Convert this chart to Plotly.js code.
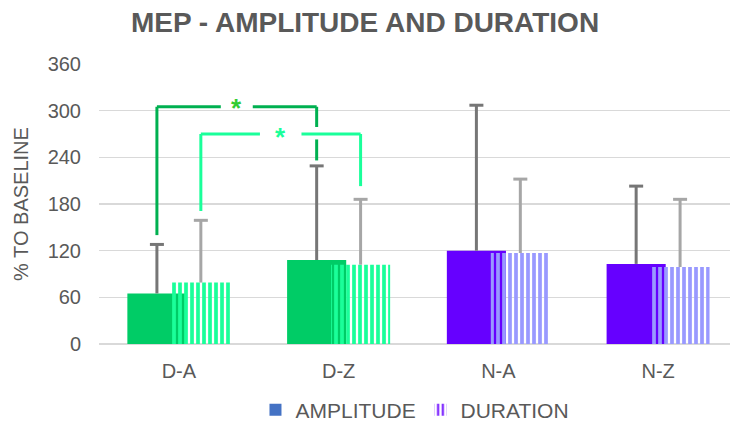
<!DOCTYPE html>
<html>
<head>
<meta charset="utf-8">
<script src="https://cdn.plot.ly/plotly-3.0.1.min.js"></script>
<style>html,body{margin:0;padding:0;background:#fff;}#chart{width:730px;height:425px;}</style>
</head>
<body>
<div id="chart"></div>
<script>
// ---- data ----
const categories = ['D-A', 'D-Z', 'N-A', 'N-Z'];
const amplitude = [65, 108, 120, 103];
const amplitudeSD = [63, 121, 187, 100];
const duration = [79, 102, 117, 99];
const durationSD = [80, 84, 95, 87];
const yTicks = [0, 60, 120, 180, 240, 300, 360];

// significance brackets: series index (0 amplitude, 1 duration), from/to category, level, bottoms
const sigSeries = [0, 1];
const sigFrom = [0, 0];
const sigTo = [1, 1];
const sigLevel = [305, 270];
const sigBottomFrom = [140, 171];
const sigBottomTo = [236, 203];
const sigText = ['*', '*'];

// ---- styles ----
const ampColors = ['#00CC66', '#00CC66', '#6600FF', '#6600FF'];
const durColors = ['#1AFF9A', '#1AFF9A', '#9999FF', '#9999FF'];
const bracketColors = ['#00B050', '#1AFF9A'];
const starColors = ['#33CC33', '#1AFF9A'];
const starShift = [-1, -3];
const gridColor = '#D9D9D9';
const textColor = '#595959';
const font = 'Liberation Sans, Arial, sans-serif';

const xs = categories.map((c, i) => i);
const barW = 0.37;
const shift = 0.1375;

function errTraces(vals, sds, dx, color) {
  const ex = [], ey = [], cx = [], cy = [];
  vals.forEach((v, i) => {
    ex.push(i + dx, i + dx, null);
    ey.push(v, v + sds[i], null);
    cx.push(i + dx);
    cy.push(v + sds[i]);
  });
  return [
    {type: 'scatter', mode: 'lines', x: ex, y: ey, line: {color: color, width: 3}, showlegend: false, hoverinfo: 'skip'},
    {type: 'scatter', mode: 'markers', x: cx, y: cy, marker: {symbol: 'line-ew', size: 10, line: {color: color, width: 3}},
      showlegend: false, hoverinfo: 'skip'}
  ];
}

const traces = [
  {
    type: 'bar', x: xs, y: amplitude, width: barW, offset: -shift - barW / 2,
    marker: {color: ampColors, line: {width: 0}},
    showlegend: false, hoverinfo: 'skip'
  },
  {
    type: 'bar', x: xs, y: duration, width: barW, offset: shift - barW / 2,
    marker: {color: durColors, line: {width: 0},
      pattern: {shape: '|', fgcolor: durColors, bgcolor: '#ffffff', size: 6, solidity: 0.62, fillmode: 'replace'}},
    showlegend: false, hoverinfo: 'skip'
  },
  ...errTraces(amplitude, amplitudeSD, -shift, '#767676'),
  ...errTraces(duration, durationSD, shift, '#A6A6A6'),
  {
    type: 'bar', x: [-5], y: [1], name: 'AMPLITUDE',
    marker: {color: '#4472C4'}, showlegend: true, hoverinfo: 'skip'
  },
  {
    type: 'bar', x: [-5], y: [1], name: 'DURATION',
    marker: {color: '#6600FF', pattern: {shape: '|', fgcolor: '#6600FF', bgcolor: '#ffffff', size: 6, solidity: 0.4, fillmode: 'replace'}},
    showlegend: true, hoverinfo: 'skip'
  }
];

// brackets as shapes computed from data
const shapes = [];
const annotations = [];
const seriesShift = [-shift, shift];
function seg(x0, y0, x1, y1, color) {
  shapes.push({type: 'line', xref: 'x', yref: 'y', x0: x0, y0: y0, x1: x1, y1: y1,
    line: {color: color, width: 3}});
}
const gapHalf = [0.1, 0.13];
for (let i = 0; i < sigSeries.length; i++) {
  const xa = sigFrom[i] + seriesShift[sigSeries[i]];
  const xb = sigTo[i] + seriesShift[sigSeries[i]];
  const lv = sigLevel[i];
  const mid = (xa + xb) / 2;
  const c = bracketColors[i];
  seg(xa, sigBottomFrom[i], xa, lv, c);
  seg(xa, lv, mid - gapHalf[i], lv, c);
  seg(mid + gapHalf[i], lv, xb, lv, c);
  // right leg, broken where another bracket's horizontal crosses it
  let top = lv;
  for (let j = 0; j < sigSeries.length; j++) {
    if (j === i) continue;
    const ja = sigFrom[j] + seriesShift[sigSeries[j]];
    const jb = sigTo[j] + seriesShift[sigSeries[j]];
    if (xb > ja && xb < jb && sigLevel[j] < lv && sigLevel[j] > sigBottomTo[i]) {
      seg(xb, top, xb, sigLevel[j] + 9, c);
      top = sigLevel[j] - 7;
    }
  }
  seg(xb, top, xb, sigBottomTo[i], c);
  annotations.push({xref: 'x', yref: 'y', x: mid, y: lv, text: '<b>' + sigText[i] + '</b>',
    showarrow: false, yanchor: 'middle', xanchor: 'center', yshift: starShift[i],
    font: {family: font, size: 26, color: starColors[i]}});
}

const layout = {
  width: 730, height: 425,
  margin: {l: 99, r: 0, t: 64, b: 81, pad: 0},
  paper_bgcolor: '#ffffff', plot_bgcolor: '#ffffff',
  barmode: 'overlay',
  font: {family: font, color: textColor, size: 20},
  title: {text: '<b>MEP - AMPLITUDE AND DURATION</b>', x: 0.5, xref: 'container', xanchor: 'center',
    y: 1 - 22 / 425, yref: 'container', yanchor: 'middle',
    font: {family: font, size: 28, color: textColor}},
  xaxis: {range: [-0.5, 3.45], tickvals: xs, ticktext: categories, showgrid: false, zeroline: false,
    showline: false, ticks: '', ticklabelstandoff: 13, tickfont: {size: 20, color: textColor}, fixedrange: true},
  yaxis: {range: [0, 360], tickvals: yTicks, ticktext: yTicks.map(String), showgrid: true, gridcolor: gridColor, gridwidth: 1.5,
    zeroline: true, zerolinecolor: gridColor, zerolinewidth: 1.5, showline: false, ticks: '',
    ticklabelstandoff: 17, tickfont: {size: 20, color: textColor},
    title: {text: '% TO BASELINE', font: {size: 20, color: textColor}, standoff: 13}, fixedrange: true},
  legend: {orientation: 'h', xref: 'container', x: 0.576, xanchor: 'center', yref: 'container', y: 1 - 410 / 425, yanchor: 'middle',
    entrywidth: 120, entrywidthmode: 'pixels',
    font: {size: 21, color: textColor}, itemclick: false, bgcolor: 'rgba(0,0,0,0)'},
  shapes: shapes,
  annotations: annotations,
  showlegend: true
};

Plotly.newPlot('chart', traces, layout, {displayModeBar: false, staticPlot: true});
</script>
</body>
</html>
